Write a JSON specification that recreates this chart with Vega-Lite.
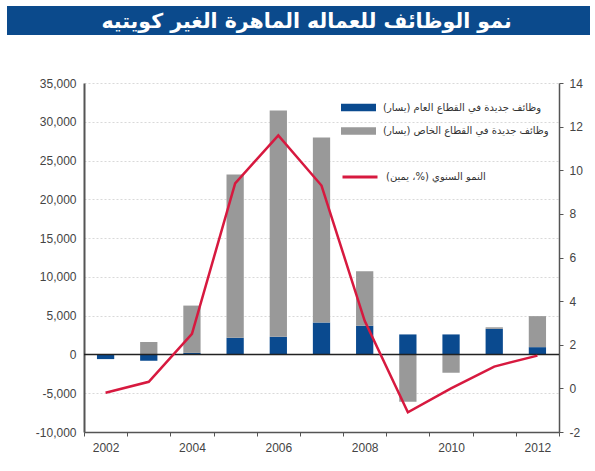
{
  "$schema": "https://vega.github.io/schema/vega-lite/v6.json",
  "padding": {"left": 7, "top": 6, "right": 5, "bottom": 5},
  "background": "white",
  "spacing": 42,
  "bounds": "full",
  "config": {
    "view": {"stroke": null},
    "font": "Liberation Sans",
    "axis": {"labelFont": "Liberation Sans", "labelFontSize": 12, "labelColor": "#444444", "domainColor": "#555555", "tickColor": "#555555"}
  },
  "datasets": {
    "jobs": [
      {"year": 2002, "sector": "public", "ord": 1, "value": -600},
      {"year": 2002, "sector": "private", "ord": 2, "value": 0},
      {"year": 2003, "sector": "public", "ord": 1, "value": -800},
      {"year": 2003, "sector": "private", "ord": 2, "value": 1600},
      {"year": 2004, "sector": "public", "ord": 1, "value": 200},
      {"year": 2004, "sector": "private", "ord": 2, "value": 6100},
      {"year": 2005, "sector": "public", "ord": 1, "value": 2150},
      {"year": 2005, "sector": "private", "ord": 2, "value": 21050},
      {"year": 2006, "sector": "public", "ord": 1, "value": 2280},
      {"year": 2006, "sector": "private", "ord": 2, "value": 29160},
      {"year": 2007, "sector": "public", "ord": 1, "value": 4120},
      {"year": 2007, "sector": "private", "ord": 2, "value": 23840},
      {"year": 2008, "sector": "public", "ord": 1, "value": 3700},
      {"year": 2008, "sector": "private", "ord": 2, "value": 7030},
      {"year": 2009, "sector": "public", "ord": 1, "value": 2580},
      {"year": 2009, "sector": "private", "ord": 2, "value": -6100},
      {"year": 2010, "sector": "public", "ord": 1, "value": 2580},
      {"year": 2010, "sector": "private", "ord": 2, "value": -2360},
      {"year": 2011, "sector": "public", "ord": 1, "value": 3300},
      {"year": 2011, "sector": "private", "ord": 2, "value": 200},
      {"year": 2012, "sector": "public", "ord": 1, "value": 940},
      {"year": 2012, "sector": "private", "ord": 2, "value": 4000}
    ],
    "growth": [
      {"year": 2002, "series": "growth", "growth": -0.2},
      {"year": 2003, "series": "growth", "growth": 0.3},
      {"year": 2004, "series": "growth", "growth": 2.5},
      {"year": 2005, "series": "growth", "growth": 9.4},
      {"year": 2006, "series": "growth", "growth": 11.6},
      {"year": 2007, "series": "growth", "growth": 9.3},
      {"year": 2008, "series": "growth", "growth": 3.1},
      {"year": 2009, "series": "growth", "growth": -1.1},
      {"year": 2010, "series": "growth", "growth": 0.0},
      {"year": 2011, "series": "growth", "growth": 1.0},
      {"year": 2012, "series": "growth", "growth": 1.5}
    ]
  },
  "vconcat": [
    {
      "width": 583,
      "height": 29,
      "view": {"fill": "#0b4a8c", "stroke": null},
      "data": {"values": [{"title": "نمو الوظائف للعماله الماهرة الغير كويتيه"}]},
      "mark": {"type": "text", "color": "white", "fontWeight": "bold", "fontSize": 20.5, "font": "DejaVu Sans", "baseline": "middle", "align": "center", "dy": 1, "dx": 8},
      "encoding": {"text": {"field": "title", "type": "nominal"}}
    },
    {
      "spacing": 0,
      "hconcat": [
        {
          "width": 28,
          "height": 349,
          "data": {"values": []},
          "mark": {"type": "point", "opacity": 0},
          "encoding": {}
        },
        {
          "width": 475,
          "height": 349,
          "layer": [
            {
              "layer": [
                {
                  "data": {"name": "jobs"},
                  "mark": {"type": "bar", "width": {"band": 0.4}},
                  "encoding": {
                    "x": {
                      "field": "year", "type": "ordinal",
                      "scale": {"paddingInner": 0, "paddingOuter": 0},
                      "axis": {"title": null, "labelAngle": 0, "tickBand": "extent", "tickSize": 4, "domainWidth": 1.5, "labelPadding": 6, "grid": false,
                               "labelExpr": "datum.value % 2 == 0 ? datum.label : ''"}
                    },
                    "y": {
                      "field": "value", "type": "quantitative", "stack": "zero",
                      "scale": {"domain": [-10000, 35000], "nice": false, "zero": false},
                      "axis": {"title": null, "values": [-10000, -5000, 0, 5000, 10000, 15000, 20000, 25000, 30000, 35000],
                               "labelExpr": "replace(format(datum.value, ','), '\u2212', '-')", "ticks": false, "labelPadding": 8, "domainWidth": 2, "grid": true, "gridColor": "#d9d9d9", "gridDash": [2, 2]}
                    },
                    "color": {
                      "field": "sector", "type": "nominal",
                      "scale": {"domain": ["public", "private"], "range": ["#0a4a8f", "#999999"]},
                      "legend": {"orient": "none", "legendX": 334, "legendY": 84, "title": null,
                                 "symbolType": "M-1,-0.22H1V0.22H-1Z", "symbolSize": 1225, "symbolStrokeWidth": 0,
                                 "labelFont": "DejaVu Sans", "labelFontSize": 10, "labelColor": "#333333", "labelOffset": 7,
                                 "rowPadding": 0.5, "padding": 0, "labelLimit": 300,
                                 "labelExpr": "datum.value == 'public' ? 'وظائف جديدة في القطاع العام (يسار)\u200f' : 'وظائف جديدة في القطاع الخاص (يسار)\u200f'"}
                    },
                    "order": {"field": "ord", "type": "quantitative"}
                  }
                },
                {
                  "data": {"values": [{"z": 0}]},
                  "mark": {"type": "rule", "color": "#222222", "strokeWidth": 1.5},
                  "encoding": {"y": {"field": "z", "type": "quantitative",
                    "axis": {"title": null, "values": [-10000, -5000, 0, 5000, 10000, 15000, 20000, 25000, 30000, 35000],
                             "labelExpr": "replace(format(datum.value, ','), '\u2212', '-')", "ticks": false, "labelPadding": 8, "domainWidth": 2, "grid": true, "gridColor": "#d9d9d9", "gridDash": [2, 2]}}}
                }
              ]
            },
            {
              "data": {"name": "growth"},
              "mark": {"type": "line", "strokeWidth": 2.5},
              "encoding": {
                "x": {"field": "year", "type": "ordinal"},
                "y": {
                  "field": "growth", "type": "quantitative",
                  "scale": {"domain": [-2, 14], "nice": false, "zero": false},
                  "axis": {"orient": "right", "title": null, "values": [-2, 0, 2, 4, 6, 8, 10, 12, 14], "grid": false, "tickSize": 4, "domainWidth": 1.5, "labelPadding": 6,
                           "labelExpr": "replace(datum.label, '\u2212', '-')"}
                },
                "stroke": {
                  "field": "series", "type": "nominal",
                  "scale": {"range": ["#d7193f"]},
                  "legend": {"orient": "none", "legendX": 334, "legendY": 152, "title": null,
                             "symbolType": "stroke", "symbolSize": 1225, "symbolStrokeWidth": 3,
                             "labelFont": "DejaVu Sans", "labelFontSize": 10, "labelColor": "#333333", "labelOffset": 7,
                             "padding": 0, "labelLimit": 300,
                             "labelExpr": "'النمو السنوي (%، يمين)\u200f'"}
                }
              }
            }
          ],
          "resolve": {"scale": {"y": "independent"}}
        }
      ]
    }
  ]
}
